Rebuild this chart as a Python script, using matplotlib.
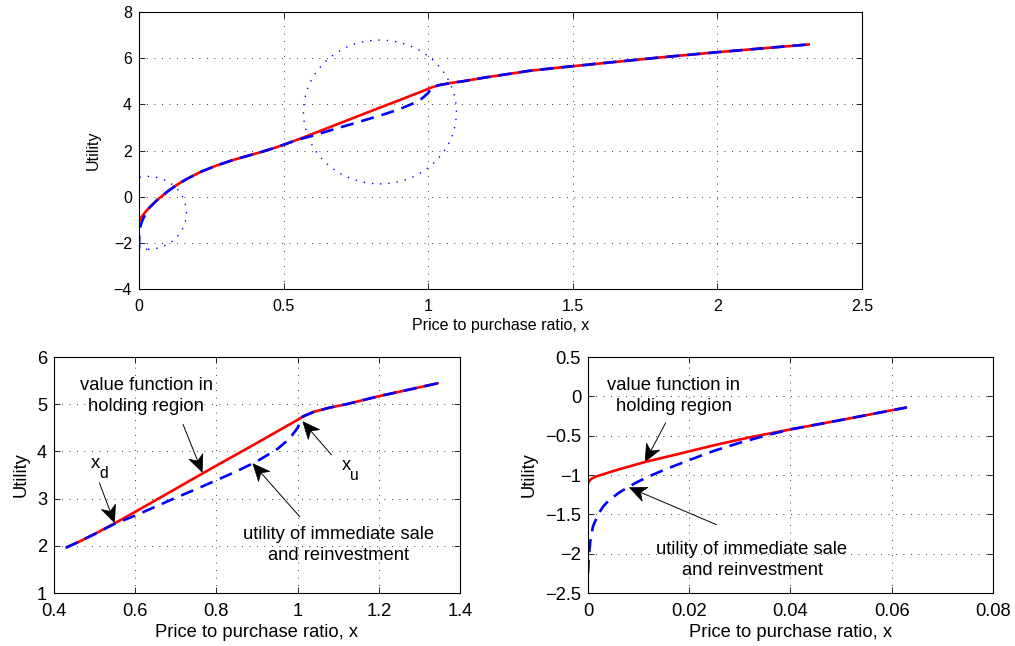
import matplotlib
matplotlib.use("Agg")
import numpy as np
import matplotlib.pyplot as plt
from matplotlib.patches import Ellipse, Polygon
from matplotlib.ticker import FuncFormatter, MultipleLocator

plt.rcParams['font.family'] = ['Liberation Sans', 'DejaVu Sans']
plt.rcParams['axes.unicode_minus'] = True

# value function in the holding region (solid red)
value_x = [0.0, 0.0002, 0.0006, 0.0015, 0.003, 0.006, 0.0115, 0.018, 0.025,
           0.032, 0.04, 0.05, 0.063, 0.0766, 0.1, 0.134, 0.17, 0.214, 0.27,
           0.328, 0.39, 0.429, 0.46, 0.5, 0.55, 0.6, 0.7, 0.8, 0.9, 1.0,
           1.013, 1.04, 1.08, 1.12, 1.2, 1.28, 1.348, 1.45, 1.6, 1.8, 2.0,
           2.15, 2.32]
value_y = [-1.11, -1.08, -1.05, -1.02, -0.99, -0.93, -0.83, -0.73, -0.62,
           -0.52, -0.42, -0.30, -0.14, 0.0, 0.24, 0.54, 0.80, 1.08, 1.36,
           1.60, 1.82, 1.96, 2.08, 2.25, 2.48, 2.72, 3.21, 3.70, 4.18, 4.67,
           4.74, 4.84, 4.93, 5.00, 5.17, 5.32, 5.45, 5.59, 5.78, 6.03, 6.26,
           6.42, 6.60]

# utility of immediate sale and reinvestment (dashed blue)
sale_x = [0.0, 0.0002, 0.0005, 0.001, 0.002, 0.003, 0.004, 0.006, 0.008,
          0.010, 0.013, 0.016, 0.02, 0.025, 0.03, 0.035, 0.04, 0.05, 0.063,
          0.0766, 0.1, 0.134, 0.17, 0.214, 0.27, 0.328, 0.39, 0.429, 0.46,
          0.5, 0.55, 0.6, 0.65, 0.7, 0.75, 0.8, 0.85, 0.9, 0.95, 0.98, 1.0,
          1.013, 1.04, 1.08, 1.12, 1.2, 1.28, 1.348, 1.45, 1.6, 1.8, 2.0,
          2.15, 2.32]
sale_y = [-2.25, -2.0, -1.82, -1.65, -1.50, -1.40, -1.33, -1.23, -1.15,
          -1.08, -0.99, -0.91, -0.81, -0.69, -0.59, -0.50, -0.42, -0.30,
          -0.14, 0.0, 0.24, 0.54, 0.80, 1.08, 1.36, 1.60, 1.82, 1.96, 2.08,
          2.25, 2.47, 2.64, 2.83, 3.02, 3.20, 3.39, 3.58, 3.79, 4.05, 4.27,
          4.50, 4.74, 4.84, 4.93, 5.00, 5.17, 5.32, 5.45, 5.59, 5.78, 6.03,
          6.26, 6.42, 6.60]

# zoom regions marked on the overview (centre x, centre y, width, height)
zoom_regions = [(0.031, -0.70, 0.266, 3.16), (0.833, 3.67, 0.529, 6.23)]

XLABEL = "Price to purchase ratio, x"
VALUE_TXT = "value function in\nholding region"
SALE_TXT = "utility of immediate sale\nand reinvestment"


def fmt(v, pos):
    return f"{v:g}".replace("-", "\u2212")


def window(xs, ys, lo, hi):
    xs, ys = np.asarray(xs), np.asarray(ys)
    keep = (xs >= lo) & (xs <= hi)
    return xs[keep], ys[keep]


def style_axes(ax, xr, xlim, ylim, xstep, ystep, fs, ypad):
    ax.plot(*window(value_x, value_y, *xr), color="red", lw=1.9,
            solid_capstyle="butt")
    ax.plot(*window(sale_x, sale_y, *xr), color="blue", lw=1.9, dashes=(5, 3))
    ax.set_xlim(*xlim)
    ax.set_ylim(*ylim)
    ax.xaxis.set_major_locator(MultipleLocator(xstep))
    ax.yaxis.set_major_locator(MultipleLocator(ystep))
    ax.xaxis.set_major_formatter(FuncFormatter(fmt))
    ax.yaxis.set_major_formatter(FuncFormatter(fmt))
    ax.grid(True, color="black", lw=0.6, linestyle=(0, (1, 8)))
    ax.tick_params(direction="in", top=True, right=True, length=4, width=0.6,
                   labelsize=fs)
    ax.tick_params(axis="x", pad=7)
    ax.tick_params(axis="y", pad=5)
    for sp in ax.spines.values():
        sp.set_linewidth(0.8)
    ax.set_xlabel(XLABEL, fontsize=fs, labelpad=3)
    ax.set_ylabel("Utility", fontsize=fs, labelpad=ypad)


def arrow(ax, tip, tail, L=17, W=7.5, notch=5):
    # thin shaft with a swept-back filled head, built in pixel space
    to_fig = fig.transFigure.inverted()
    p = ax.transData.transform(tip)
    t = ax.transData.transform(tail)
    u = (p - t) / np.hypot(*(p - t))
    n = np.array([-u[1], u[0]])
    base = p - (L - notch) * u
    head = [p, p - L * u + W * n, base, p - L * u - W * n]
    ax.add_patch(Polygon(to_fig.transform(head), closed=True, fc="black",
                         ec="black", lw=0.5, transform=fig.transFigure,
                         clip_on=False))
    shaft = to_fig.transform([t, base])
    ax.plot(shaft[:, 0], shaft[:, 1], color="black", lw=0.7,
            transform=fig.transFigure, clip_on=False)


def subscripted(ax, x, y, main, sub, fs):
    ax.text(x, y, main, ha="center", va="center", fontsize=fs)
    ax.annotate(sub, (x, y), xytext=(6, -7), textcoords="offset points",
                ha="center", va="center", fontsize=fs * 0.85)


fig = plt.figure(figsize=(10.15, 6.46), dpi=100)
fs_top, fs_bot = 11.5, 13.2

# overview
ax1 = fig.add_axes([0.137, 0.5526, 0.7123, 0.4288])
style_axes(ax1, (0, 2.5), (0, 2.5), (-4, 8), 0.5, 2, fs_top, 9)
for cx, cy, w, h in zoom_regions:
    ax1.add_patch(Ellipse((cx, cy), w, h, fill=False, edgecolor="blue",
                          lw=1.0, linestyle=(0, (1, 5))))

# zoom around the trigger points x_d and x_u
ax2 = fig.add_axes([0.0532, 0.082, 0.4, 0.3653])
style_axes(ax2, (0.429, 1.348), (0.4, 1.4), (1, 6), 0.2, 1, fs_bot, 5)
ax2.text(0.627, 5.17, VALUE_TXT, ha="center", va="center", fontsize=fs_bot,
         linespacing=1.3)
arrow(ax2, (0.765, 3.56), (0.718, 4.57))
subscripted(ax2, 0.503, 3.74, "x", "d", fs_bot)
arrow(ax2, (0.549, 2.49), (0.512, 3.33))
subscripted(ax2, 1.12, 3.70, "x", "u", fs_bot)
arrow(ax2, (1.013, 4.63), (1.083, 3.93))
ax2.text(1.10, 2.01, SALE_TXT, ha="center", va="center", fontsize=fs_bot,
         linespacing=1.3)
arrow(ax2, (0.89, 3.74), (1.005, 2.62))

# zoom near zero
ax3 = fig.add_axes([0.5793, 0.082, 0.399, 0.3653])
style_axes(ax3, (0, 0.0632), (0, 0.08), (-2.5, 0.5), 0.02, 0.5, fs_bot, 5)
ax3.text(0.0169, 0.008, VALUE_TXT, ha="center", va="center", fontsize=fs_bot,
         linespacing=1.3)
arrow(ax3, (0.0113, -0.83), (0.0153, -0.34))
ax3.text(0.0324, -2.085, SALE_TXT, ha="center", va="center", fontsize=fs_bot,
         linespacing=1.3)
arrow(ax3, (0.0082, -1.16), (0.02535, -1.63))

fig.savefig("out.png", dpi=100)
